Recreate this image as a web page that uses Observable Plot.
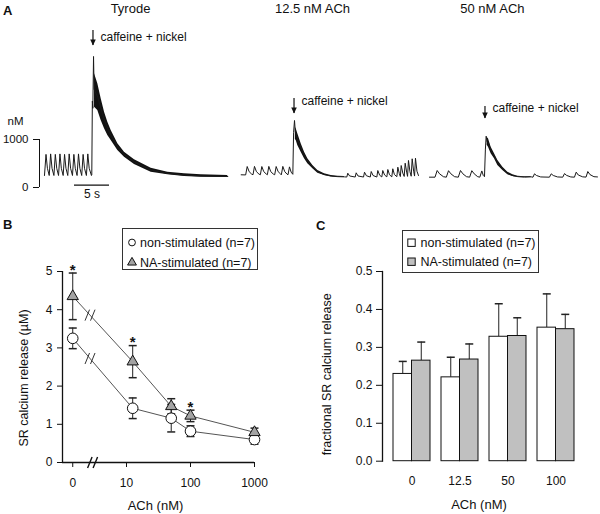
<!DOCTYPE html>
<html><head><meta charset="utf-8">
<script src="https://cdn.jsdelivr.net/npm/d3@7"></script>
<script src="https://cdn.jsdelivr.net/npm/@observablehq/plot@0.6"></script>
<style>
body{margin:0;background:#fff;}
#fig{position:relative;width:600px;height:514px;overflow:hidden;font-family:"Liberation Sans",Arial,sans-serif;color:#111;background:#fff;}
.plab{position:absolute;font-weight:bold;font-size:13px;line-height:13px;}
</style></head><body><div id="fig"></div><script>
// ---------------- Panel A : [Ca2+] traces (time in s, concentration in nM)
const trace1 = [[0.71,250],[0.93,690],[1.13,400],[1.39,250],[1.59,700],[1.79,400],[2.06,250],[2.26,690],[2.46,400],[2.72,250],[2.92,700],[3.12,400],[3.38,250],[3.58,690],[3.78,400],[4.04,250],[4.24,700],[4.44,400],[4.71,250],[4.91,690],[5.11,400],[5.37,250],[5.57,700],[5.77,400],[6.03,250],[6.23,690],[6.43,400],[6.70,250],[6.90,700],[7.10,400],[7.42,250],[7.47,260],[7.55,1800],[7.62,1650],[7.72,2730],[7.80,2050],[7.86,2021],[8.33,1882],[8.81,1622],[9.29,1396],[9.76,1222],[10.24,1083],[11.19,840],[12.14,684],[13.57,528],[15.95,362],[18.33,292],[20.71,257],[23.1,240],[26.9,229]];
const trace2 = [[28.81,265],[29.45,262],[29.67,437],[29.95,330],[30.3,280],[30.5,265],[30.71,440],[30.99,330],[31.35,280],[31.55,265],[31.76,437],[32.04,330],[32.4,280],[32.55,265],[32.76,440],[33.04,330],[33.4,280],[33.6,265],[33.81,437],[34.09,330],[34.45,280],[34.55,265],[34.76,440],[35.04,330],[35.35,280],[35.5,265],[35.71,430],[35.95,320],[36.19,275],[36.30,1150],[36.43,1396],[36.55,1150],[36.67,1100],[36.9,997],[37.38,823],[37.86,667],[38.33,545],[39.05,424],[39.76,327],[40.71,268],[41.67,236],[42.62,226],[43.57,222],[43.9,218],[44.04,298],[44.3,240],[45.1,218],[45.24,306],[45.5,240],[46.29,218],[46.43,319],[46.7,245],[47.25,218],[47.39,333],[47.65,250],[48.19,218],[48.33,354],[48.6,255],[48.9,220],[49.04,354],[49.3,260],[49.62,222],[49.76,375],[50.0,265],[50.33,222],[50.47,390],[50.7,270],[51.05,225],[51.19,423],[51.4,290],[51.55,228],[51.67,458],[51.9,300],[52.1,230],[52.24,506],[52.45,320],[52.58,232],[52.71,563],[52.92,330],[53.1,235],[53.24,598],[53.45,340],[53.58,238],[53.71,610],[53.92,340],[54.14,250]];
const trace3 = [[55.71,215],[56.5,215],[56.81,354],[57.15,285],[57.7,225],[58.12,215],[58.43,350],[58.77,285],[59.3,225],[59.83,215],[60.14,354],[60.48,285],[61.0,225],[61.45,215],[61.76,350],[62.1,285],[62.6,225],[62.9,215],[63.19,345],[63.4,250],[63.57,225],[63.70,800],[63.81,1069],[63.95,950],[64.14,927],[64.52,770],[65.0,649],[65.48,510],[66.19,389],[66.9,292],[67.62,246],[68.33,226],[69.29,215],[70.24,222],[70.5,215],[70.71,285],[71.0,250],[71.6,220],[72.85,215],[73.1,285],[73.4,250],[74.0,220],[74.75,215],[75.0,290],[75.3,252],[75.9,220],[76.42,215],[76.67,320],[76.97,260],[77.6,222],[78.08,217],[78.33,333],[78.63,270],[79.2,225],[79.71,220]];
// noisy envelope of the caffeine transients: [t, lower nM, upper nM]
const band1 = [[7.86,1674,2368],[8.33,1604,2160],[8.81,1396,1847],[9.29,1222,1569],[9.76,1083,1361],[10.24,979,1188],[11.19,771,910],[12.14,632,736],[13.57,479,576],[15.95,320,403],[18.33,264,320],[20.71,229,285],[23.1,215,264],[26.9,208,250]];
const band2 = [[36.55,1000,1250],[36.67,979,1222],[36.9,875,1118],[37.38,736,910],[37.86,597,736],[38.33,493,597],[39.05,389,458],[39.76,299,354],[40.71,250,285],[41.67,222,250],[42.62,215,236],[43.57,215,229]];
const band3 = [[63.95,880,1040],[64.14,840,1014],[64.52,701,840],[65.0,597,701],[65.48,458,563],[66.19,354,424],[66.9,264,320],[67.62,229,264],[68.33,215,236],[69.29,208,222],[70.24,215,229]];
const traceTitles = ["Tyrode", "12.5 nM ACh", "50 nM ACh"];
const titleT = [13.0, 39.0, 64.7];
const caffLabel = "caffeine + nickel";
const caffT = [7.64, 36.36, 63.64];
const arrowTipNM = [2958, 1542, 1437];
const arrowTopNM = [3271, 1854, 1687];
const caffLabelNM = [3125, 1792, 1646];
const scaleTicksNM = [0, 1000];
const scaleUnit = "nM";
const timeBar = [5, 10];
const timeBarLabel = "5 s";

// ---------------- Panel B : SR calcium release (µM) vs ACh (nM)
const achB = [0, 12.5, 50, 100, 1000];
const nonMean = [3.25, 1.42, 1.16, 0.82, 0.60];
const nonErr  = [0.27, 0.27, 0.36, 0.14, 0.12];
const naMean  = [4.35, 2.64, 1.47, 1.22, 0.79];
const naErr   = [0.61, 0.42, 0.20, 0.15, 0.11];
const naSig   = [true, true, false, true, false];
const xTickValuesB = [0, 10, 100, 1000];
const xTickLabelsB = ["0", "10", "100", "1000"];
const yTicksB = [0, 1, 2, 3, 4, 5];
const seriesLabels = ["non-stimulated (n=7)", "NA-stimulated (n=7)"];

// ---------------- Panel C : fractional SR calcium release
const achC = ["0", "12.5", "50", "100"];
const nonFrac    = [0.230, 0.221, 0.328, 0.352];
const nonFracErr = [0.033, 0.053, 0.087, 0.089];
const naFrac     = [0.265, 0.268, 0.330, 0.348];
const naFracErr  = [0.049, 0.041, 0.048, 0.039];
const yTicksC = [0, 0.1, 0.2, 0.3, 0.4, 0.5];

const FONT = "Liberation Sans, Arial, sans-serif";
const fig = document.getElementById("fig");
const baseStyle = {background: "transparent", fontFamily: FONT, fontSize: "12px", overflow: "visible", color: "#111"};
function place(node, left, top) {
  node.style.position = "absolute";
  node.style.left = left + "px";
  node.style.top = top + "px";
  node.style.maxWidth = "none";
  fig.appendChild(node);
}

// ----- Panel A
const rowsA = [];
[trace1, trace2, trace3].forEach((tr, k) => tr.forEach(([t, v]) => rowsA.push({trace: k, t, v})));
const bandsA = [];
[band1, band2, band3].forEach((b, k) => b.forEach(([t, lo, hi]) => bandsA.push({trace: k, t, lo, hi})));
const arrows = caffT.map((t, i) => ({t, tip: arrowTipNM[i], top: arrowTopNM[i], lab: caffLabelNM[i], title: traceTitles[i], tt: titleT[i]}));
const arrowHead = {draw(ctx) { ctx.moveTo(-2.8, -6); ctx.lineTo(2.8, -6); ctx.lineTo(0, 0); ctx.closePath(); }};

const plotA = Plot.plot({
  width: 600, height: 205, marginLeft: 39, marginRight: 0, marginTop: 0, marginBottom: 0,
  x: {domain: [0, 561 / 7], axis: null},
  y: {domain: [-18 / 0.048, 187 / 0.048]},
  style: baseStyle,
  marks: [
    Plot.axisY({ticks: scaleTicksNM, tickFormat: d => String(d), tickSize: 6, tickPadding: 5, fontSize: 11.5, label: null}),
    Plot.ruleX([0], {y1: scaleTicksNM[0], y2: scaleTicksNM[1], stroke: "#111"}),
    Plot.text([scaleUnit], {x: 0, y: 1375, dx: -24, text: d => d, fontSize: 11.5}),
    Plot.ruleY([50], {x1: timeBar[0], x2: timeBar[1], stroke: "#111", strokeWidth: 1.2}),
    Plot.text([timeBarLabel], {x: (timeBar[0] + timeBar[1]) / 2, y: 50, dy: 9, text: d => d, fontSize: 12}),
    Plot.areaY(bandsA, {x: "t", y1: "lo", y2: "hi", z: "trace", fill: "#111"}),
    Plot.line(rowsA, {x: "t", y: "v", z: "trace", stroke: "#1a1a1a", strokeWidth: 1}),
    Plot.ruleX(arrows, {x: "t", y1: "top", y2: "tip", stroke: "#111", strokeWidth: 1.2}),
    Plot.dot(arrows, {x: "t", y: "tip", symbol: arrowHead, fill: "#111", stroke: "none", r: 3}),
    Plot.text(arrows, {x: "t", y: "lab", text: () => caffLabel, dx: 7.5, textAnchor: "start", fontSize: 12}),
    Plot.text(arrows, {x: "tt", frameAnchor: "top", text: "title", textAnchor: "middle", lineAnchor: "middle", dy: 8, fontSize: 13})
  ]
});
place(plotA, 0, 0);

// ----- Panel B
const zeroPos = 0.16;                       // position of the "0" point on the broken log axis
const posB = a => a === 0 ? zeroPos : Math.log10(a);
const rowsB = achB.map((a, i) => ({a, p: posB(a), non: nonMean[i], nonErr: nonErr[i], na: naMean[i], naErr: naErr[i], sig: naSig[i]}));
const lineBreakP = 0.43, axisBreakP = 0.47;
const interp = (key) => rowsB[0][key] + (rowsB[1][key] - rowsB[0][key]) * (lineBreakP - rowsB[0].p) / (rowsB[1].p - rowsB[0].p);
const breaks = [{p: lineBreakP, y: interp("non")}, {p: lineBreakP, y: interp("na")}];
const slashes = {draw(ctx) { ctx.moveTo(-5, 5.5); ctx.lineTo(-0.5, -5.5); ctx.moveTo(0.5, 5.5); ctx.lineTo(5, -5.5); }};
const cap = {draw(ctx) { ctx.moveTo(-4, 0); ctx.lineTo(4, 0); }};
const tickLabelMap = new Map(xTickValuesB.map((v, i) => [posB(v), xTickLabelsB[i]]));

const plotB = Plot.plot({
  width: 300, height: 300, marginLeft: 62, marginRight: 46, marginTop: 57, marginBottom: 52,
  x: {domain: [0, 3]},
  y: {domain: [0, 5]},
  style: baseStyle,
  marks: [
    Plot.ruleX([0], {y1: 0, y2: 5, stroke: "#111", strokeWidth: 1.3}),
    Plot.ruleY([0], {stroke: "#111", strokeWidth: 1.3}),
    Plot.axisY({ticks: yTicksB, tickFormat: d => String(d), tickSize: 5, tickPadding: 5, fontSize: 12, label: null}),
    Plot.axisX({ticks: xTickValuesB.map(posB), tickFormat: d => tickLabelMap.get(d), tickSize: 5, tickPadding: 11, fontSize: 12, label: null}),
    Plot.text(["SR calcium release (µM)"], {frameAnchor: "left", text: d => d, rotate: -90, textAnchor: "middle", lineAnchor: "middle", dx: -38.7, dy: 11, fontSize: 12.5}),
    Plot.text(["ACh (nM)"], {frameAnchor: "bottom", text: d => d, textAnchor: "middle", lineAnchor: "middle", dx: -3, dy: 43, fontSize: 13}),
    Plot.dot([{p: axisBreakP, y: 0}], {x: "p", y: "y", symbol: slashes, fill: "none", stroke: "#111", strokeWidth: 1.4}),
    Plot.line(rowsB, {x: "p", y: "na", stroke: "#555", strokeWidth: 1}),
    Plot.line(rowsB, {x: "p", y: "non", stroke: "#555", strokeWidth: 1}),
    Plot.dot(breaks, {x: "p", y: "y", symbol: slashes, fill: "none", stroke: "#333", strokeWidth: 1}),
    Plot.ruleX(rowsB, {x: "p", y1: d => d.non - d.nonErr, y2: d => d.non + d.nonErr, stroke: "#222"}),
    Plot.dot(rowsB, {x: "p", y: d => d.non - d.nonErr, symbol: cap, fill: "none", stroke: "#222"}),
    Plot.dot(rowsB, {x: "p", y: d => d.non + d.nonErr, symbol: cap, fill: "none", stroke: "#222"}),
    Plot.ruleX(rowsB, {x: "p", y1: d => d.na - d.naErr, y2: d => d.na + d.naErr, stroke: "#222"}),
    Plot.dot(rowsB, {x: "p", y: d => d.na - d.naErr, symbol: cap, fill: "none", stroke: "#222"}),
    Plot.dot(rowsB, {x: "p", y: d => d.na + d.naErr, symbol: cap, fill: "none", stroke: "#222"}),
    Plot.dot(rowsB, {x: "p", y: "non", r: 5.3, fill: "white", stroke: "#111", strokeWidth: 1}),
    Plot.dot(rowsB, {x: "p", y: "na", symbol: "triangle", r: 4.2, fill: "#a3a3a3", stroke: "#111", strokeWidth: 1}),
    Plot.text(rowsB.filter(d => d.sig), {x: "p", y: d => d.na + d.naErr, text: () => "*", lineAnchor: "bottom", dy: 1.5, fontSize: 15, fontWeight: "bold"})
  ]
});
place(plotB, 0, 214);

// ----- Panel C
const rowsC = achC.map((a, i) => ({a, non: nonFrac[i], nonErr: nonFracErr[i], na: naFrac[i], naErr: naFracErr[i]}));
const half = 18.5;
const plotC = Plot.plot({
  width: 300, height: 300, marginLeft: 82, marginRight: 15, marginTop: 57, marginBottom: 53.3,
  x: {domain: achC, paddingInner: 0.237, paddingOuter: 0.21},
  y: {domain: [0, 0.5]},
  style: baseStyle,
  marks: [
    Plot.frame({anchor: "left", stroke: "#111", strokeWidth: 1.3}),
    Plot.axisY({ticks: yTicksC, tickFormat: d3.format(".1f"), tickSize: 6, tickPadding: 4, fontSize: 12, label: null}),
    Plot.axisX({tickSize: 0, tickPadding: 15, fontSize: 12, label: null}),
    Plot.text(["fractional SR calcium release"], {frameAnchor: "left", text: d => d, rotate: -90, textAnchor: "middle", lineAnchor: "middle", dx: -56, dy: 8, fontSize: 12.5}),
    Plot.text(["ACh (nM)"], {frameAnchor: "bottom", text: d => d, textAnchor: "middle", lineAnchor: "middle", dx: -5, dy: 44, fontSize: 13}),
    Plot.ruleX(rowsC, {x: "a", y1: "non", y2: d => d.non + d.nonErr, dx: -half / 2, stroke: "#222"}),
    Plot.dot(rowsC, {x: "a", y: d => d.non + d.nonErr, dx: -half / 2, symbol: cap, fill: "none", stroke: "#222"}),
    Plot.ruleX(rowsC, {x: "a", y1: "na", y2: d => d.na + d.naErr, dx: half / 2, stroke: "#222"}),
    Plot.dot(rowsC, {x: "a", y: d => d.na + d.naErr, dx: half / 2, symbol: cap, fill: "none", stroke: "#222"}),
    Plot.barY(rowsC, {x: "a", y: "non", fill: "white", stroke: "#111", strokeWidth: 1, insetRight: half}),
    Plot.barY(rowsC, {x: "a", y: "na", fill: "#c0c0c0", stroke: "#111", strokeWidth: 1, insetLeft: half})
  ]
});
place(plotC, 300, 214);

// ----- legends (overlaid inside panels B and C)
function legendBox(left, top, w, h, rows) {
  const svg = d3.create("svg").attr("width", w).attr("height", h)
    .style("position", "absolute").style("left", left + "px").style("top", top + "px")
    .style("font-family", FONT);
  svg.append("rect").attr("x", 0.5).attr("y", 0.5).attr("width", w - 1).attr("height", h - 1)
    .attr("fill", "white").attr("stroke", "#333");
  rows.forEach(r => {
    r.marker(svg.append("g").attr("transform", `translate(${r.mx},${r.my})`));
    svg.append("text").attr("x", r.tx).attr("y", r.my).attr("dy", "0.35em")
      .attr("font-size", 12.5).attr("fill", "#111").text(r.label);
  });
  fig.appendChild(svg.node());
}
const circleM = g => g.append("circle").attr("r", 3.4).attr("fill", "white").attr("stroke", "#111");
const triM = g => g.append("path").attr("d", d3.symbol(d3.symbolTriangle, 34)()).attr("fill", "#a3a3a3").attr("stroke", "#111");
const sqM = fill => g => g.append("rect").attr("x", -3.7).attr("y", -3.7).attr("width", 7.4).attr("height", 7.4).attr("fill", fill).attr("stroke", "#111");
legendBox(122, 228, 136, 42, [
  {marker: circleM, mx: 10, my: 14.5, tx: 18, label: seriesLabels[0]},
  {marker: triM, mx: 10, my: 34.5, tx: 18, label: seriesLabels[1]}
]);
legendBox(402, 230, 137, 43, [
  {marker: sqM("white"), mx: 9.5, my: 12.7, tx: 18.5, label: seriesLabels[0]},
  {marker: sqM("#c0c0c0"), mx: 9.5, my: 31.7, tx: 18.5, label: seriesLabels[1]}
]);

// ----- panel letters
[["A", 3, 3.5], ["B", 3, 217.5], ["C", 316, 218.5]].forEach(([t, x, y]) => {
  const d = document.createElement("div");
  d.className = "plab"; d.textContent = t; d.style.left = x + "px"; d.style.top = y + "px";
  fig.appendChild(d);
});
</script></body></html>
